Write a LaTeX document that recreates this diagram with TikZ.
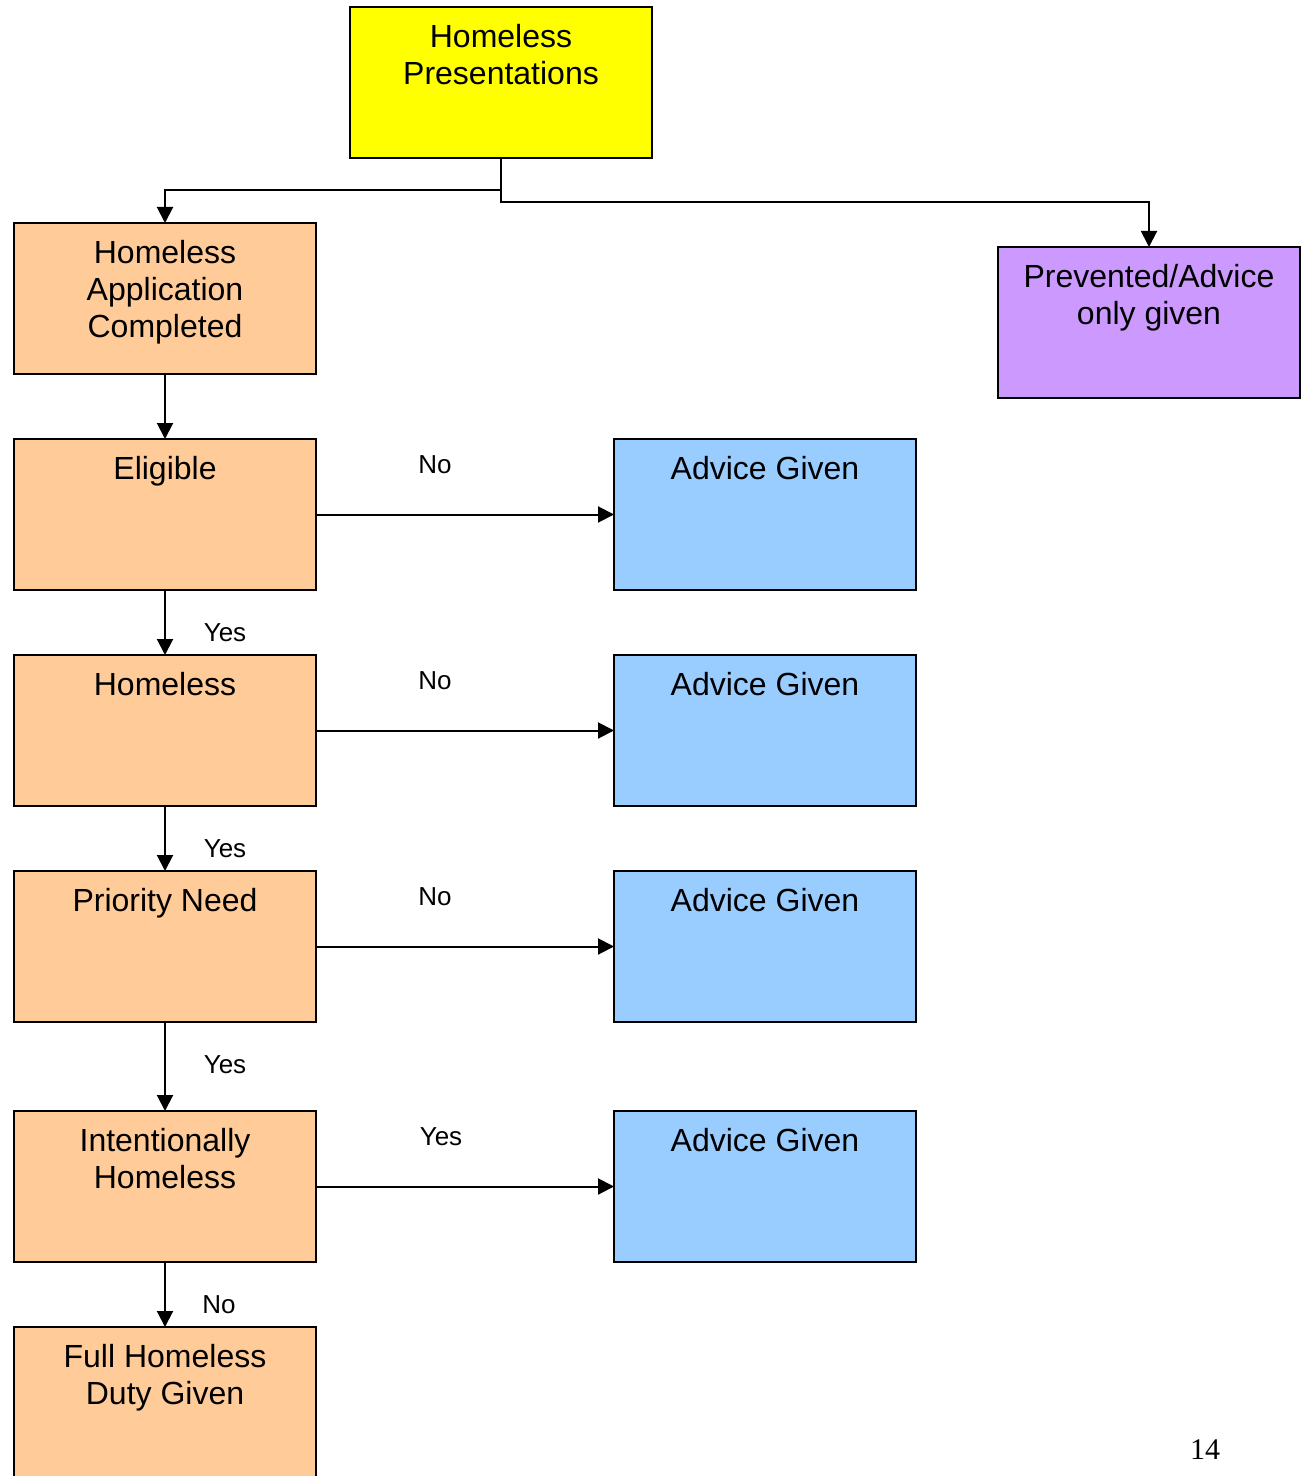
\documentclass[tikz,border=0pt]{standalone}
\usepackage{fontspec}
\setmainfont{Liberation Sans}
\newfontfamily\pagenumfont{Liberation Serif}
\usetikzlibrary{arrows.meta}
\definecolor{boxyellow}{HTML}{FFFF00}
\definecolor{boxorange}{HTML}{FFCC99}
\definecolor{boxblue}{HTML}{99CCFF}
\definecolor{boxpurple}{HTML}{CC99FF}
\tikzset{
  flowbox/.style={draw=black, line width=1pt, minimum width=151pt, minimum height=75.5pt,
    inner sep=0pt, outer sep=0pt, anchor=north west},
  boxtext/.style={anchor=north, inner sep=0pt, align=center, yshift=-8.5pt,
    font=\fontsize{16}{18.5}\selectfont},
  arr/.style={draw=black, line width=1pt, -{Triangle[length=8pt,width=8pt]}},
  tag/.style={inner sep=0pt, font=\fontsize{13}{15}\selectfont}
}
\begin{document}
\begin{tikzpicture}[x=0.5pt, y=-0.5pt]
\useasboundingbox (0,0) rectangle (1302,1476);
\clip (0,0) rectangle (1302,1476);

% boxes
\node[flowbox, fill=boxyellow] (pres) at (350,7) {};
\node[boxtext] at (pres.north) {Homeless\\Presentations};

\node[flowbox, fill=boxorange] (app) at (14,223) {};
\node[boxtext] at (app.north) {Homeless\\Application\\Completed};

\node[flowbox, fill=boxpurple] (prev) at (998,247) {};
\node[boxtext] at (prev.north) {Prevented/Advice\\only given};

\node[flowbox, fill=boxorange] (elig) at (14,439) {};
\node[boxtext] at (elig.north) {Eligible};

\node[flowbox, fill=boxorange] (home) at (14,655) {};
\node[boxtext] at (home.north) {Homeless};

\node[flowbox, fill=boxorange] (prio) at (14,871) {};
\node[boxtext] at (prio.north) {Priority Need};

\node[flowbox, fill=boxorange] (intent) at (14,1111) {};
\node[boxtext] at (intent.north) {Intentionally\\Homeless};

\node[flowbox, fill=boxorange] (full) at (14,1327) {};
\node[boxtext] at (full.north) {Full Homeless\\Duty Given};

\node[flowbox, fill=boxblue] (adva) at (614,439) {};
\node[boxtext] at (adva.north) {Advice Given};

\node[flowbox, fill=boxblue] (advb) at (614,655) {};
\node[boxtext] at (advb.north) {Advice Given};

\node[flowbox, fill=boxblue] (advc) at (614,871) {};
\node[boxtext] at (advc.north) {Advice Given};

\node[flowbox, fill=boxblue] (advd) at (614,1111) {};
\node[boxtext] at (advd.north) {Advice Given};

% connectors
\draw[arr] (pres.south) -- ++(0,32) -| (app.north);
\draw[arr] (pres.south) -- ++(0,44) -| (prev.north);
\draw[arr] (app.south) -- (elig.north);
\draw[arr] (elig.south) -- (home.north);
\draw[arr] (home.south) -- (prio.north);
\draw[arr] (prio.south) -- (intent.north);
\draw[arr] (intent.south) -- (full.north);
\draw[arr] (elig.east) -- (adva.west);
\draw[arr] (home.east) -- (advb.west);
\draw[arr] (prio.east) -- (advc.west);
\draw[arr] (intent.east) -- (advd.west);

% connector labels
\node[tag] (n1) at (435,465) {No};
\node[tag] (n2) at (435,681) {No};
\node[tag] (n3) at (435,897) {No};
\node[tag] (n4) at (441,1137) {Yes};
\node[tag] (y1) at (225,633) {Yes};
\node[tag] (y2) at (225,849) {Yes};
\node[tag] (y3) at (225,1065) {Yes};
\node[tag] (n5) at (219,1305) {No};

% page number
\node[inner sep=0pt, font=\pagenumfont\fontsize{15}{17}\selectfont] (pg) at (1205,1450) {14};
\end{tikzpicture}
\end{document}
